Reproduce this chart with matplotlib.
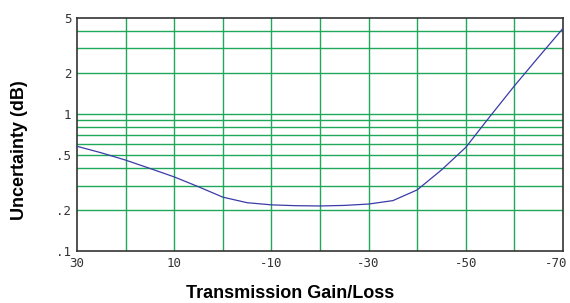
import matplotlib
matplotlib.use("Agg")
import matplotlib.pyplot as plt
import matplotlib.transforms as mtransforms
import numpy as np

# Data
gain = [30, 25, 20, 15, 10, 5, 0, -5, -10, -15, -20, -25, -30, -35, -40, -45, -50, -55, -60, -65, -70]
uncert = [0.58, 0.52, 0.46, 0.40, 0.347, 0.294, 0.247, 0.225, 0.217, 0.214, 0.213, 0.215, 0.22, 0.233, 0.279, 0.39, 0.57, 0.96, 1.6, 2.6, 4.2]

x_ticks = [30, 10, -10, -30, -50, -70]
x_ticklabels = ["30", "10", "-10", "-30", "-50", "-70"]
y_ticks = [0.1, 0.2, 0.5, 1, 2, 5]
y_ticklabels = [".1", ".2", ".5", "1", "2", "5"]
x_grid = [20, 10, 0, -10, -20, -30, -40, -50, -60]
y_grid = [0.2, 0.3, 0.4, 0.5, 0.6, 0.7, 0.8, 0.9, 1, 2, 3, 4]

fig = plt.figure(figsize=(5.7, 3.03), dpi=100)
ax = fig.add_axes([77/570, 52/303, 486/570, 233/303])
ax.set_yscale("log")
ax.set_xlim(30, -70)
ax.set_ylim(0.1, 5)

grid_color = "#1fa85a"
for g in x_grid:
    ax.axvline(g, color=grid_color, lw=1.0, zorder=1)
for g in y_grid:
    ax.axhline(g, color=grid_color, lw=1.0, zorder=1)

ax.plot(gain, uncert, color="#3b3ba8", lw=0.9, zorder=3)

ax.set_xticks(x_ticks)
ax.set_xticklabels(x_ticklabels)
ax.set_yticks(y_ticks)
ax.set_yticklabels(y_ticklabels)
ax.yaxis.set_minor_locator(matplotlib.ticker.NullLocator())
ax.tick_params(length=0, labelsize=9, labelcolor="#333333", pad=4)
for lab in ax.get_xticklabels() + ax.get_yticklabels():
    lab.set_family("DejaVu Sans Mono")
# shift the last x label left so it stays inside the figure
last = ax.get_xticklabels()[-1]
last.set_transform(last.get_transform() + mtransforms.ScaledTranslation(-7/100, 0, fig.dpi_scale_trans))
for sp in ax.spines.values():
    sp.set_color("#333333")
    sp.set_linewidth(1.2)

label_font = dict(family=["Liberation Sans Narrow", "Liberation Sans", "DejaVu Sans"], weight="bold", size=13)
fig.text(290/570, 1 - 294/303, "Transmission Gain/Loss", ha="center", va="center", **label_font)
fig.text(20/570, 1 - 150/303, "Uncertainty (dB)", ha="center", va="center", rotation=90, **label_font)

fig.savefig("out.png", dpi=100)
